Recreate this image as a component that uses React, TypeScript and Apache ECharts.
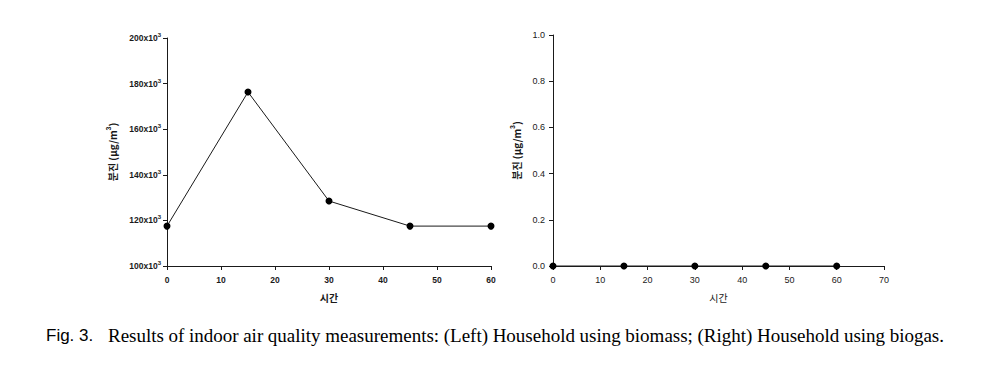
import React, { useEffect, useRef } from "react";
import * as echarts from "echarts";

// ---- Data ----
const timeMinutes = [0, 15, 30, 45, 60];
const biomassDust = [117500, 176300, 128500, 117500, 117500]; // µg/m³
const biogasDust = [0, 0, 0, 0, 0]; // µg/m³
const yAxisTitle = "{t|분진 (μg/m}{s|3}{t|)}";
const xAxisTitle = "시간";
const figLabel = "Fig. 3.";
const captionText =
  "Results of indoor air quality measurements: (Left) Household using biomass; (Right) Household using biogas.";

const INK = "#1a1a1a";

export default function App() {
  const ref = useRef<HTMLDivElement>(null);

  useEffect(() => {
    if (!ref.current) return;
    const chart = echarts.init(ref.current, undefined, { renderer: "svg" });

    // justified caption layout
    const words = captionText.split(" ");
    const capFont = "19px 'Liberation Serif'";
    const canvas = document.createElement("canvas");
    const ctx = canvas.getContext("2d")!;
    ctx.font = capFont;
    const widths = words.map((w) => ctx.measureText(w).width);
    const startX = 108;
    const endX = 944;
    const total = widths.reduce((a, b) => a + b, 0);
    const gap = (endX - startX - total) / (words.length - 1);
    let cx = startX;
    const wordEls = words.map((w, i) => {
      const el = {
        type: "text",
        x: cx,
        y: 335,
        style: {
          text: w,
          font: capFont,
          fill: "#000",
          verticalAlign: "middle",
        },
      };
      cx += widths[i] + gap;
      return el;
    });

    const lineSeries = (data: number[], xi: number) => ({
      type: "line",
      xAxisIndex: xi,
      yAxisIndex: xi,
      data: timeMinutes.map((t, i) => [t, data[i]]),
      symbol: "circle",
      symbolSize: 7,
      showSymbol: true,
      clip: false,
      lineStyle: { color: INK, width: 1 },
      itemStyle: { color: "#000" },
      z: 5,
    });

    const axisCommon = {
      axisLine: { show: true, lineStyle: { color: INK, width: 1 } },
      axisTick: { show: true, inside: false, length: 4, lineStyle: { color: INK } },
      splitLine: { show: false },
    };

    const yNameStyle = (bold: boolean) => ({
      color: INK,
      fontFamily: "Noto Sans CJK KR",
      fontSize: 10,
      fontWeight: bold ? "bold" : "normal",
      rich: {
        t: { fontFamily: "Noto Sans CJK KR", fontSize: 10, fontWeight: bold ? "bold" : "normal", color: INK, lineHeight: 14 },
        s: { fontFamily: "Liberation Sans", fontSize: 7, fontWeight: "bold", color: INK, verticalAlign: "top", lineHeight: 14 },
      },
    });

    chart.setOption({
      animation: false,
      backgroundColor: "#fff",
      grid: [
        { left: 167, top: 38, width: 324, height: 228 },
        { left: 553, top: 35, width: 331, height: 231 },
      ],
      xAxis: [
        {
          gridIndex: 0,
          type: "value",
          min: 0,
          max: 60,
          interval: 10,
          ...axisCommon,
          axisLabel: {
            color: INK,
            fontFamily: "Liberation Sans",
            fontWeight: "bold",
            fontSize: 8.5,
            margin: 9,
          },
          name: xAxisTitle,
          nameLocation: "middle",
          nameGap: 26,
          nameTextStyle: { color: INK, fontFamily: "Noto Sans CJK KR", fontSize: 10, fontWeight: "bold" },
        },
        {
          gridIndex: 1,
          type: "value",
          min: 0,
          max: 70,
          interval: 10,
          ...axisCommon,
          axisLabel: {
            color: INK,
            fontFamily: "Liberation Sans",
            fontSize: 9,
            margin: 9,
          },
          name: xAxisTitle,
          nameLocation: "middle",
          nameGap: 26,
          nameTextStyle: { color: INK, fontFamily: "Noto Sans CJK KR", fontSize: 10 },
        },
      ],
      yAxis: [
        {
          gridIndex: 0,
          type: "value",
          min: 100000,
          max: 200000,
          interval: 20000,
          ...axisCommon,
          axisLabel: {
            color: INK,
            fontFamily: "Liberation Sans",
            fontWeight: "bold",
            fontSize: 8.5,
            margin: 6,
            formatter: (v: number) => `{a|${Math.round(v / 1000)}x10}{b|3}`,
            rich: {
              a: { fontFamily: "Liberation Sans", fontWeight: "bold", fontSize: 8.5, color: INK, lineHeight: 12 },
              b: { fontFamily: "Liberation Sans", fontWeight: "bold", fontSize: 6, color: INK, verticalAlign: "top", lineHeight: 12 },
            },
          },
          name: yAxisTitle,
          nameLocation: "middle",
          nameGap: 48,
          nameTextStyle: yNameStyle(true),
        },
        {
          gridIndex: 1,
          type: "value",
          min: 0,
          max: 1,
          interval: 0.2,
          ...axisCommon,
          axisLabel: {
            color: INK,
            fontFamily: "Liberation Sans",
            fontSize: 9,
            margin: 8,
            formatter: (v: number) => v.toFixed(1),
          },
          name: yAxisTitle,
          nameLocation: "middle",
          nameGap: 30,
          nameTextStyle: yNameStyle(true),
        },
      ],
      series: [lineSeries(biomassDust, 0), lineSeries(biogasDust, 1)],
      graphic: [
        {
          type: "text",
          x: 46,
          y: 335,
          style: {
            text: figLabel,
            font: "17px 'Liberation Sans'",
            fill: "#000",
            verticalAlign: "middle",
          },
        },
        ...wordEls,
      ],
    });

    return () => chart.dispose();
  }, []);

  return (
    <div
      ref={ref}
      style={{ position: "fixed", left: 0, top: 0, width: 993, height: 369, background: "#fff" }}
    />
  );
}
